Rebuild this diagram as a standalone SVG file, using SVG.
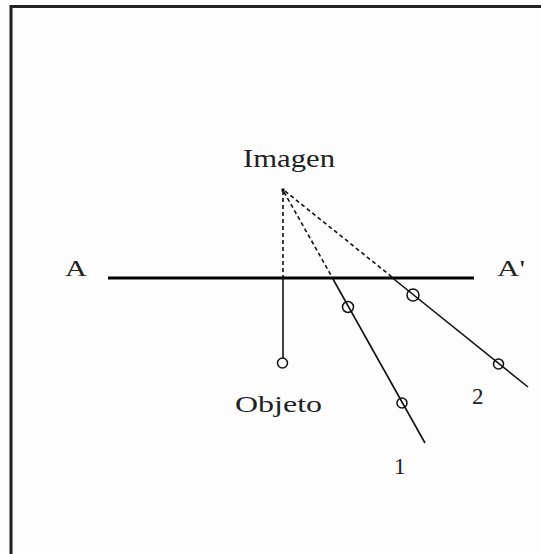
<svg xmlns="http://www.w3.org/2000/svg" width="541" height="554" viewBox="0 0 541 554">
<style>
.lbl{font-family:"Liberation Serif","Times New Roman",serif;fill:#222;}
.ray{stroke:#111;stroke-width:1.6;fill:none;}
.dash{stroke:#111;stroke-width:1.6;fill:none;stroke-dasharray:4 3;}
.pt{stroke:#111;stroke-width:1.5;fill:none;}
</style>
<rect x="0" y="0" width="541" height="554" fill="#fdfdfd"/>
<rect x="11" y="6.5" width="560" height="580" fill="none" stroke="#222" stroke-width="3"/>
<line x1="12.5" y1="8" x2="12.5" y2="554" stroke="#888" stroke-width="1"/>
<g id="mirror">
<line x1="108" y1="278" x2="474" y2="278" stroke="#000" stroke-width="3.2"/>
<text class="lbl" x="65" y="276" font-size="23" textLength="22" lengthAdjust="spacingAndGlyphs">A</text>
<text class="lbl" x="497" y="276" font-size="23" textLength="28" lengthAdjust="spacingAndGlyphs">A'</text>
</g>
<g id="imagen">
<rect x="281.5" y="188.5" width="3" height="3" fill="#000"/>
<text class="lbl" x="243" y="167" font-size="25" textLength="92" lengthAdjust="spacingAndGlyphs">Imagen</text>
</g>
<g id="objeto">
<circle class="pt" cx="282.5" cy="363" r="5"/>
<text class="lbl" x="235" y="412" font-size="24" textLength="87" lengthAdjust="spacingAndGlyphs">Objeto</text>
</g>
<g id="connectors">
<line class="dash" x1="283" y1="191" x2="283" y2="277"/>
<line class="ray" x1="283" y1="278" x2="283" y2="358"/>
<line class="dash" x1="284" y1="192" x2="332" y2="277"/>
<line class="ray" x1="332.4" y1="278" x2="425" y2="443"/>
<line class="dash" x1="285" y1="191" x2="392" y2="277"/>
<line class="ray" x1="392.5" y1="278" x2="528" y2="387"/>
</g>
<g id="ray1">
<circle class="pt" cx="348" cy="307" r="5.5"/>
<circle class="pt" cx="402" cy="403" r="5"/>
<text class="lbl" x="394" y="474" font-size="23">1</text>
</g>
<g id="ray2">
<circle class="pt" cx="413" cy="295" r="6"/>
<circle class="pt" cx="498.5" cy="364" r="5"/>
<text class="lbl" x="472" y="404" font-size="23">2</text>
</g>
</svg>
